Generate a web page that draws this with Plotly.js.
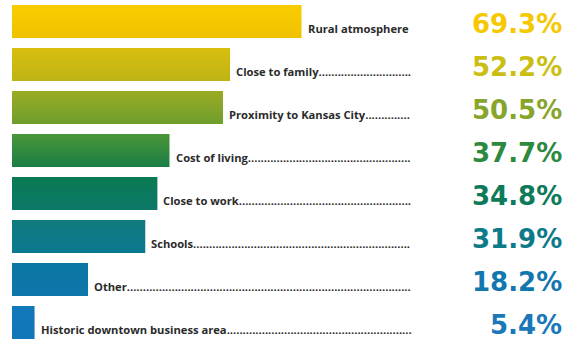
<!DOCTYPE html>
<html>
<head>
<meta charset="utf-8">
<script src="https://cdn.plot.ly/plotly-3.0.1.min.js"></script>
<style>html,body{margin:0;padding:0;background:#fff;}#chart{width:576px;height:341px;}</style>
</head>
<body>
<div id="chart"></div>
<script>
// ---- data ----
const categories = [
  "Rural atmosphere",
  "Close to family",
  "Proximity to Kansas City",
  "Cost of living",
  "Close to work",
  "Schools",
  "Other",
  "Historic downtown business area"
];
const percents = [69.3, 52.2, 50.5, 37.7, 34.8, 31.9, 18.2, 5.4];
const valueLabels = ["69.3%", "52.2%", "50.5%", "37.7%", "34.8%", "31.9%", "18.2%", "5.4%"];

// ---- style ----
const barMid    = ["#F5C700", "#CCBA12", "#84A42A", "#31893E", "#0B7860", "#0E7886", "#0E77A8", "#1177B8"];
const barTop    = ["#FACC00", "#D9BE0E", "#9AAB22", "#4A9638", "#0A7A52", "#117A7C", "#0B77A2", "#1378B8"];
const barBottom = ["#EEC200", "#BDB416", "#6E9E2E", "#1A7E45", "#0C786A", "#0A7890", "#0D76AC", "#1076B8"];
const valueColors = ["#F5C800", "#CBBE12", "#86A52A", "#2C8A3E", "#0D7A5A", "#0C7A88", "#1277AE", "#1A78B8"];

const W = 576, H = 341;
const margin = {l: 12, r: 0, t: 0, b: 0};
const xMax = 135;
const ppu = (W - margin.l - margin.r) / xMax;
const labelFamily = "Open Sans";
const labelSize = 11.2;
const labelFont = {family: labelFamily, size: labelSize, color: "#2b2b2b", weight: 700};
const dotsEnd = 412;   // pixel where leader dots end
const labelGap = 5;

// measure text for leader dots
const cv = document.createElement("canvas").getContext("2d");
cv.font = "700 " + labelSize + "px '" + labelFamily + "'";
const dotW = cv.measureText(".").width;

const annotations = [];
categories.forEach((c, i) => {
  const start = margin.l + percents[i] * ppu + labelGap;
  const lw = cv.measureText(c).width;
  let n = Math.floor((dotsEnd - start - lw) / dotW);
  if (i === 0) n = 0;
  if (n < 0) n = 0;
  annotations.push({
    xref: "x", yref: "y", x: percents[i], y: c,
    xanchor: "left", yanchor: "middle", xshift: labelGap, yshift: -7,
    text: c + ".".repeat(n), showarrow: false, borderpad: 0,
    font: labelFont
  });
  annotations.push({
    xref: "paper", yref: "y", x: (563 - margin.l) / (W - margin.l - margin.r), y: c,
    xanchor: "right", yanchor: "middle", yshift: -2.5,
    text: valueLabels[i], showarrow: false, borderpad: 0,
    font: {family: "DejaVu Sans", size: 26, weight: 700, color: valueColors[i]}
  });
});

const trace = {
  type: "bar", orientation: "h",
  x: percents, y: categories,
  width: 0.767,
  marker: {color: barMid, line: {width: 0}},
  hoverinfo: "skip"
};

const layout = {
  width: W, height: H, margin: margin,
  paper_bgcolor: "#fff", plot_bgcolor: "#fff",
  showlegend: false,
  xaxis: {range: [0, xMax], visible: false, fixedrange: true},
  yaxis: {type: "category", range: [7.43, -0.5], visible: false, fixedrange: true},
  annotations: annotations
};

Plotly.newPlot("chart", [trace], layout, {displayModeBar: false, staticPlot: true}).then(gd => {
  const svg = gd.querySelector("svg.main-svg");
  const ns = "http://www.w3.org/2000/svg";
  const defs = document.createElementNS(ns, "defs");
  barTop.forEach((t, i) => {
    const g = document.createElementNS(ns, "linearGradient");
    g.setAttribute("id", "bargrad" + i);
    g.setAttribute("x1", "0"); g.setAttribute("y1", "0");
    g.setAttribute("x2", "0"); g.setAttribute("y2", "1");
    [[0, t], [1, barBottom[i]]].forEach(([o, col]) => {
      const s = document.createElementNS(ns, "stop");
      s.setAttribute("offset", o);
      s.setAttribute("stop-color", col);
      g.appendChild(s);
    });
    defs.appendChild(g);
  });
  svg.insertBefore(defs, svg.firstChild);
  gd.querySelectorAll(".barlayer .point path").forEach((p, i) => {
    p.style.fill = "url(#bargrad" + i + ")";
  });
});
</script>
</body>
</html>
